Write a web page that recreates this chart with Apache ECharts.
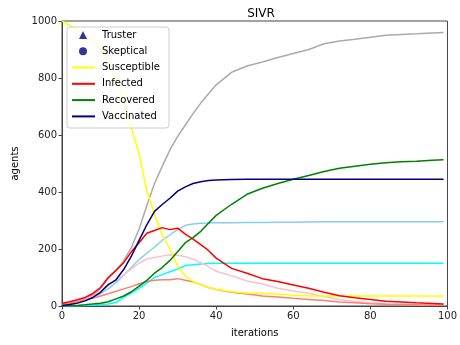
<!DOCTYPE html>
<html><head><meta charset="utf-8">
<script src="https://cdn.jsdelivr.net/npm/echarts@6/dist/echarts.min.js"></script>
<style>html,body{margin:0;padding:0;background:#fff}#c{width:460px;height:345px}</style>
</head><body><div id="c"></div>
<script>
const iterations = [0,2,4,6,8,10,12,14,16,18,20,22,24,26,28,30,32,34,36,38,40,44,48,52,56,60,64,68,72,76,80,84,88,92,96,99];
const susceptible = [1000,985,967,950,933,902,865,800,725,625,535,405,322,250,200,140,105,86,74,65,59,50,46,44,42,38,36,35,35,35,35,35,35,35,35,35];
const infected = [10,15,22,30,44,65,100,125,152,190,222,255,265,275,268,273,252,235,215,195,168,132,115,96,86,74,62,48,36,29,23,17,14,11,9,7];
const recovered = [0,1,2,4,7,10,15,25,35,50,70,90,115,135,160,190,222,240,262,290,318,357,392,413,430,445,458,472,483,490,497,503,506,508,511,513];
const vaccinated = [2,5,10,18,30,48,75,92,128,175,230,285,332,356,378,403,418,430,436,440,442,444,445,445,445,445,445,445,445,445,445,445,445,445,445,445];
const grayLine = [3,10,18,27,38,62,97,125,158,205,270,352,430,490,548,595,635,675,712,745,776,820,842,856,872,886,900,920,930,936,943,950,953,955,958,960];
const skyLine = [2,6,12,20,30,44,60,82,108,135,163,185,207,230,250,268,283,288,290,291,292,292,293,293,294,294,295,296,296,296,296,296,296,296,296,296];
const cyanLine = [0,0,1,2,3,5,7,12,30,45,62,80,100,110,120,130,142,145,147,149,150,150,150,150,150,150,150,150,150,150,150,150,150,150,150,150];
const pinkLine = [7,12,18,25,33,52,72,90,110,130,150,165,170,175,180,178,173,165,152,138,122,106,88,77,62,53,45,33,23,16,11,8,6,5,4,4];
const salmonLine = [7,10,15,21,27,35,43,52,60,68,78,86,90,92,92,96,90,85,75,65,58,48,42,35,32,27,23,19,14,11,8,6,5,4,3,3];
const xTicks = {min:0, max:100, interval:20};
const yTicks = {min:0, max:1000, interval:200};

const pairs = v => iterations.map((x,i)=>[x, v[i]]);
const mk = (name, color, vals, z) => ({
  name, type:'line', data: pairs(vals), showSymbol:false, symbol:'none',
  lineStyle:{color, width:1.5}, itemStyle:{color}, z: z||2, animation:false
});
const legText = {fontFamily:'DejaVu Sans', fontSize:10, color:'#000', lineHeight:12};
const chart = echarts.init(document.getElementById('c'), null, {renderer:'canvas'});
chart.setOption({
  animation:false,
  backgroundColor:'#fff',
  title:{text:'SIVR', left:256, top:3, textAlign:'center',
    textStyle:{fontFamily:'DejaVu Sans', fontSize:12, fontWeight:'normal', color:'#000'}},
  grid:{left:62, right:9, top:21, bottom:39, show:true, borderColor:'#444', borderWidth:1},
  xAxis:{type:'value', min:xTicks.min, max:xTicks.max, interval:xTicks.interval,
    name:'iterations', nameLocation:'middle', nameGap:22,
    nameTextStyle:{fontFamily:'DejaVu Sans', fontSize:10, color:'#000'},
    axisLine:{show:true, lineStyle:{color:'#444'}},
    axisTick:{show:true, length:3.5, lineStyle:{color:'#444'}},
    axisLabel:{fontFamily:'DejaVu Sans', fontSize:10, color:'#222', margin:5},
    splitLine:{show:false}},
  yAxis:{type:'value', min:yTicks.min, max:yTicks.max, interval:yTicks.interval,
    name:'agents', nameLocation:'middle', nameGap:40,
    nameTextStyle:{fontFamily:'DejaVu Sans', fontSize:10, color:'#000'},
    axisLine:{show:true, lineStyle:{color:'#444'}},
    axisTick:{show:true, length:3.5, lineStyle:{color:'#444'}},
    axisLabel:{fontFamily:'DejaVu Sans', fontSize:10, color:'#222', margin:5, formatter: v => String(v)},
    splitLine:{show:false}},
  graphic:[{type:'rect', z:3, shape:{x:67, y:27, width:102, height:101, r:3},
    style:{fill:'rgba(255,255,255,0.8)', stroke:'#cccccc', lineWidth:1}}],
  legend:[
    {orient:'vertical', left:79, top:29, padding:0, itemWidth:8, itemHeight:8, itemGap:4.3,
     textStyle:Object.assign({padding:[0,0,0,10]}, legText),
     data:[{name:'Truster', icon:'triangle'}, {name:'Skeptical', icon:'circle'}]},
    {orient:'vertical', left:72, top:61.5, padding:0, itemWidth:23, itemHeight:2, itemGap:4.3,
     textStyle:Object.assign({padding:[0,0,0,2]}, legText),
     icon:'rect',
     data:['Susceptible','Infected','Recovered','Vaccinated']}
  ],
  series:[
    {name:'Truster', type:'scatter', data:[], itemStyle:{color:'#000080'}, symbol:'triangle'},
    {name:'Skeptical', type:'scatter', data:[], itemStyle:{color:'#000080'}, symbol:'circle'},
    mk('Susceptible', '#ffff00', susceptible),
    mk('Infected', '#ff0000', infected),
    mk('Recovered', '#008000', recovered),
    mk('Vaccinated', '#000080', vaccinated),
    mk('gray', '#aaaaaa', grayLine, 1),
    mk('sky', '#87ceeb', skyLine, 1),
    mk('cyan', '#00ffff', cyanLine, 1),
    mk('pink', '#ffc0cb', pinkLine, 1),
    mk('salmon', '#fa8072', salmonLine, 1)
  ]
});
</script></body></html>
